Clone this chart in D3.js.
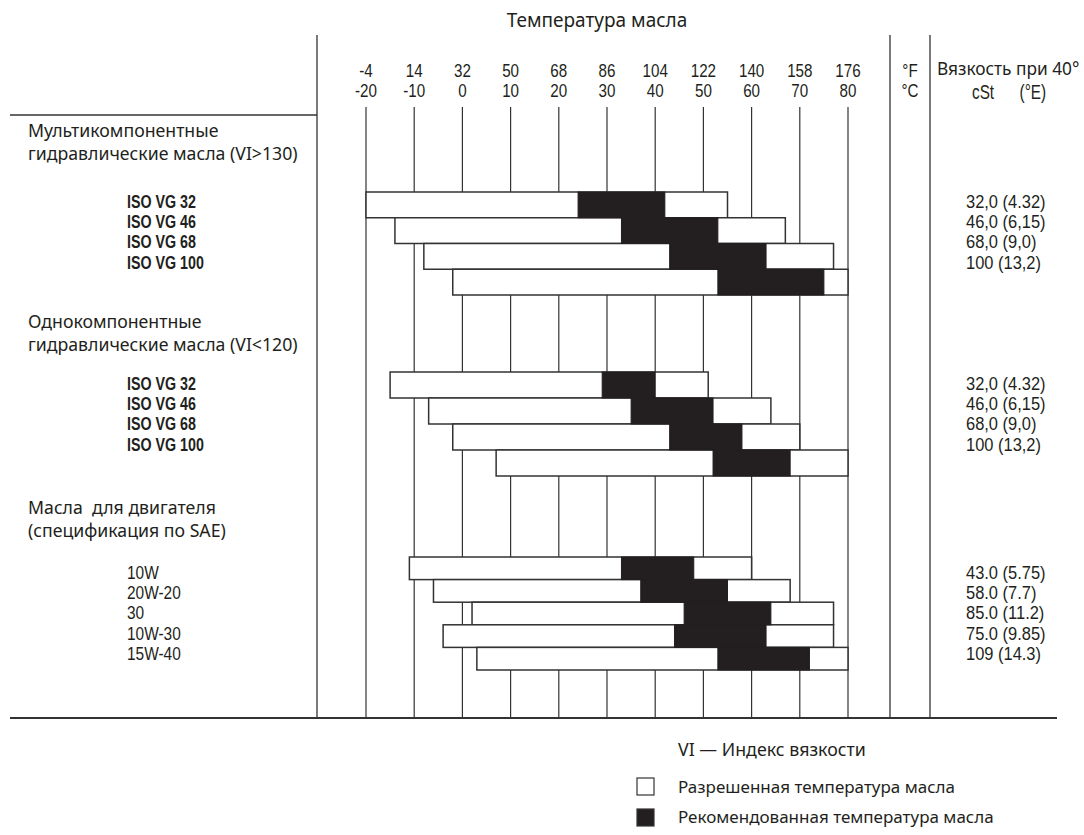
<!DOCTYPE html>
<html><head><meta charset="utf-8">
<script src="https://cdn.jsdelivr.net/npm/d3@7/dist/d3.min.js"></script>
<style>
body{margin:0;background:#fff}
text{font-family:"Noto Sans","Open Sans",sans-serif;fill:#231f20}
.reg{font-size:17.7px}
.nar{font-family:"Liberation Sans",Arial,sans-serif}
</style>
</head><body><svg id="c" width="1084" height="835"></svg>
<script>
// ---- data ----
const tempC = [-20,-10,0,10,20,30,40,50,60,70,80];
const tempF = ["-4","14","32","50","68","86","104","122","140","158","176"];

const groupTitles = [
  ["Мультикомпонентные","гидравлические масла (VI>130)"],
  ["Однокомпонентные","гидравлические масла (VI<120)"],
  ["Масла  для двигателя","(спецификация по SAE)"]
];

const grades1 = ["ISO VG 32","ISO VG 46","ISO VG 68","ISO VG 100"];
const allowedMin1 = [-20,-14,-8,-2];
const recMin1     = [24,33,43,53];
const recMax1     = [42,53,63,75];
const allowedMax1 = [55,67,77,80];
const visc1 = ["32,0 (4.32)","46,0 (6,15)","68,0 (9,0)","100 (13,2)"];

const grades2 = ["ISO VG 32","ISO VG 46","ISO VG 68","ISO VG 100"];
const allowedMin2 = [-15,-7,-2,7];
const recMin2     = [29,35,43,52];
const recMax2     = [40,52,58,68];
const allowedMax2 = [51,64,70,80];
const visc2 = ["32,0 (4.32)","46,0 (6,15)","68,0 (9,0)","100 (13,2)"];

const grades3 = ["10W","20W-20","30","10W-30","15W-40"];
const allowedMin3 = [-11,-6,2,-4,3];
const recMin3     = [33,37,46,44,53];
const recMax3     = [48,55,64,63,72];
const allowedMax3 = [60,68,77,77,80];
const visc3 = ["43.0 (5.75)","58.0 (7.7)","85.0 (11.2)","75.0 (9.85)","109 (14.3)"];

const legendItems = ["Разрешенная температура масла","Рекомендованная температура масла"];

// ---- build ----
const svg = d3.select("#c");
const ink = "#231f20", lineCol = "#333";
const x = d3.scaleLinear().domain([-20,80]).range([366,848]);

// condensed text helper: position via transform and squeeze horizontally / stretch vertically
function cond(sel, fx, fy, sx, sy){
  sy = sy || 1;
  sel.attr("x",0).attr("y",0).attr("dy","0.35em")
     .attr("transform",(d,i)=>`translate(${fx(d,i)},${fy(d,i)}) scale(${sx},${sy})`);
  return sel;
}

// frame lines
[317,890,930].forEach(xx=>{
  svg.append("line").attr("x1",xx).attr("x2",xx).attr("y1",35).attr("y2",718).attr("stroke",lineCol).attr("stroke-width",1.3);
});
svg.append("line").attr("x1",10).attr("x2",317).attr("y1",115).attr("y2",115).attr("stroke",lineCol).attr("stroke-width",1.5);
svg.append("line").attr("x1",10).attr("x2",1057).attr("y1",718).attr("y2",718).attr("stroke",lineCol).attr("stroke-width",2);

// grid lines
svg.append("g").selectAll("line").data(tempC).join("line")
  .attr("x1",d=>x(d)).attr("x2",d=>x(d)).attr("y1",107).attr("y2",718)
  .attr("stroke",lineCol).attr("stroke-width",1.2);

// header
svg.append("text").attr("x",597).attr("y",20).attr("dy","0.35em")
  .attr("text-anchor","middle").style("font-size","19px").text("Температура масла");
cond(svg.append("g").selectAll("text").data(tempF).join("text").attr("class","nar").style("font-size","16.5px")
  .attr("text-anchor","middle").text(d=>d), (d,i)=>x(tempC[i]), ()=>70, 0.92, 1.15);
cond(svg.append("g").selectAll("text").data(tempC).join("text").attr("class","nar").style("font-size","16.5px")
  .attr("text-anchor","middle").text(d=>d), d=>x(d), ()=>90, 0.92, 1.15);
cond(svg.append("text").datum("°F").attr("class","nar").style("font-size","16.5px").attr("text-anchor","middle").text("°F"), ()=>910, ()=>70, 0.92, 1.15);
cond(svg.append("text").datum("°C").attr("class","nar").style("font-size","16.5px").attr("text-anchor","middle").text("°C"), ()=>910, ()=>90, 0.92, 1.15);
svg.append("text").attr("x",937).attr("y",69).attr("dy","0.35em").style("font-size","17.3px").text("Вязкость при 40°");
cond(svg.append("text").datum(0).attr("class","nar").style("font-size","17px").attr("xml:space","preserve").text("cSt      (°E)"), ()=>972, ()=>92, 0.9, 1.15);

// groups
const groups = [
  {grades:grades1,aMin:allowedMin1,rMin:recMin1,rMax:recMax1,aMax:allowedMax1,visc:visc1,head:131,lab:201,barTop:192,barBot:295,bold:true},
  {grades:grades2,aMin:allowedMin2,rMin:recMin2,rMax:recMax2,aMax:allowedMax2,visc:visc2,head:322,lab:383,barTop:372,barBot:476,bold:true},
  {grades:grades3,aMin:allowedMin3,rMin:recMin3,rMax:recMax3,aMax:allowedMax3,visc:visc3,head:508,lab:572,barTop:557,barBot:670,bold:false}
];

groups.forEach((g,gi)=>{
  const G = svg.append("g");
  G.selectAll("text.h").data(groupTitles[gi]).join("text").attr("class","reg h")
    .attr("x",28).attr("y",(d,i)=>g.head+i*22.5).attr("dy","0.35em").attr("xml:space","preserve").text(d=>d);
  const labs = G.selectAll("text.l").data(g.grades).join("text").attr("class","l nar")
    .style("font-size","16.8px").style("font-weight",g.bold?"bold":"normal").text(d=>d);
  cond(labs, ()=>127, (d,i)=>g.lab+i*20.3, g.bold?0.85:0.92, 1.14);
  const vals = G.selectAll("text.v").data(g.visc).join("text").attr("class","v nar")
    .style("font-size","16.8px").text(d=>d);
  cond(vals, ()=>966, (d,i)=>g.lab+i*20.3, 0.98, 1.14);
  const y = d3.scaleBand().domain(g.grades).range([g.barTop,g.barBot]).paddingInner(0);
  G.selectAll("rect.a").data(g.grades).join("rect").attr("class","a")
    .attr("x",(d,i)=>x(g.aMin[i])).attr("width",(d,i)=>x(g.aMax[i])-x(g.aMin[i]))
    .attr("y",d=>y(d)).attr("height",y.bandwidth())
    .attr("fill","#fff").attr("stroke",lineCol).attr("stroke-width",1.5);
  G.selectAll("rect.r").data(g.grades).join("rect").attr("class","r")
    .attr("x",(d,i)=>x(g.rMin[i])).attr("width",(d,i)=>x(g.rMax[i])-x(g.rMin[i]))
    .attr("y",d=>y(d)).attr("height",y.bandwidth())
    .attr("fill",ink).attr("stroke",ink).attr("stroke-width",1);
});

// legend
svg.append("text").attr("x",678).attr("y",750).attr("dy","0.35em").style("font-size","17.8px").text("VI — Индекс вязкости");
const L = svg.append("g").selectAll("g").data(legendItems).join("g");
L.append("rect").attr("x",637).attr("y",(d,i)=>778+i*31).attr("width",17).attr("height",17)
  .attr("fill",(d,i)=>i?ink:"#fff").attr("stroke",lineCol).attr("stroke-width",1.2);
L.append("text").attr("x",678).attr("y",(d,i)=>787+i*30).attr("dy","0.35em").style("font-size","17px").text(d=>d);
</script>
</body></html>
